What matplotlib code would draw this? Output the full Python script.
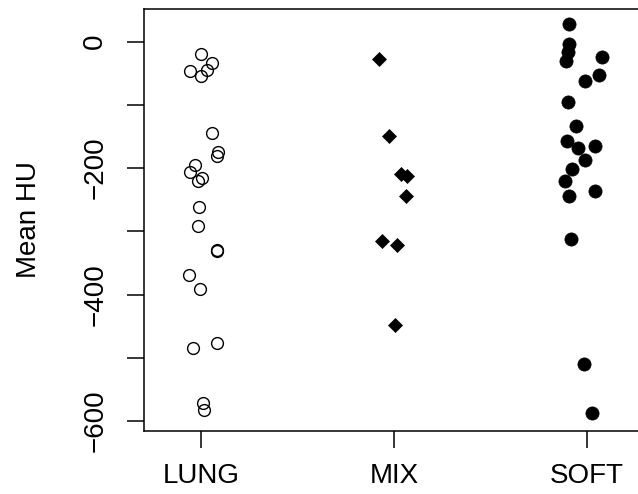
import matplotlib
matplotlib.use("Agg")
from matplotlib import pyplot as plt

plt.rcParams['font.family'] = ['Liberation Sans', 'DejaVu Sans']

groups = ["LUNG", "MIX", "SOFT"]

# mean HU per group, with the jitter offsets
lung_hu = [-19, -34, -47, -45, -55, -144, -174, -181, -195, -206, -216, -221,
           -262, -291, -329, -331, -369, -392, -477, -484, -572, -582]
lung_jit = [0.0, 0.057, -0.057, 0.03, 0.0, 0.057, 0.088, 0.085, -0.03, -0.057, 0.005, -0.015,
            -0.01, -0.015, 0.081, 0.083, -0.062, -0.005, 0.081, -0.04, 0.01, 0.016]

mix_hu = [-28, -149, -210, -212, -245, -315, -321, -448]
mix_jit = [-0.079, -0.026, 0.035, 0.066, 0.064, -0.06, 0.016, 0.004]

soft_hu = [28, -4, -17, -31, -25, -53, -62, -95, -133, -158, -169, -165, -188,
           -202, -221, -244, -236, -313, -510, -588]
soft_jit = [-0.092, -0.094, -0.1, -0.107, 0.078, 0.06, -0.009, -0.1, -0.057, -0.106, -0.045, 0.041, -0.009,
            -0.078, -0.112, -0.095, 0.039, -0.083, -0.014, 0.024]

ytick_vals = [-600, -500, -400, -300, -200, -100, 0]
ytick_labels = ["\u2212600", "", "\u2212400", "", "\u2212200", "", "0"]

fig = plt.figure(figsize=(6.38, 4.94), dpi=100)
ax = fig.add_axes([0.2262, 0.128, 0.7828, 0.854])

ax.plot([1 + j for j in lung_jit], lung_hu, "o", ms=8.5, mfc="none", mec="black", mew=1.0)
ax.plot([2 + j for j in mix_jit], mix_hu, "D", ms=7.5, mfc="black", mec="black", mew=0.5)
ax.plot([3 + j for j in soft_jit], soft_hu, "o", ms=9.5, mfc="black", mec="black", mew=0.5)

ax.set_xlim(0.706, 3.294)
ax.set_ylim(-615.5, 51.7)

ax.set_xticks([1, 2, 3])
ax.set_xticklabels(groups, fontsize=20)
ax.set_yticks(ytick_vals)
ax.set_yticklabels(ytick_labels, fontsize=20, rotation=90, va="center")

ax.tick_params(axis="both", length=12, width=1.1, color="black")
ax.tick_params(axis="x", pad=11)
ax.tick_params(axis="y", pad=14)
for s in ax.spines.values():
    s.set_linewidth(1.1)
ax.spines["right"].set_visible(False)

fig.text(0.046, 0.555, "Mean HU", rotation=90, ha="center", va="center", fontsize=20)

fig.savefig("out.png", dpi=100)
